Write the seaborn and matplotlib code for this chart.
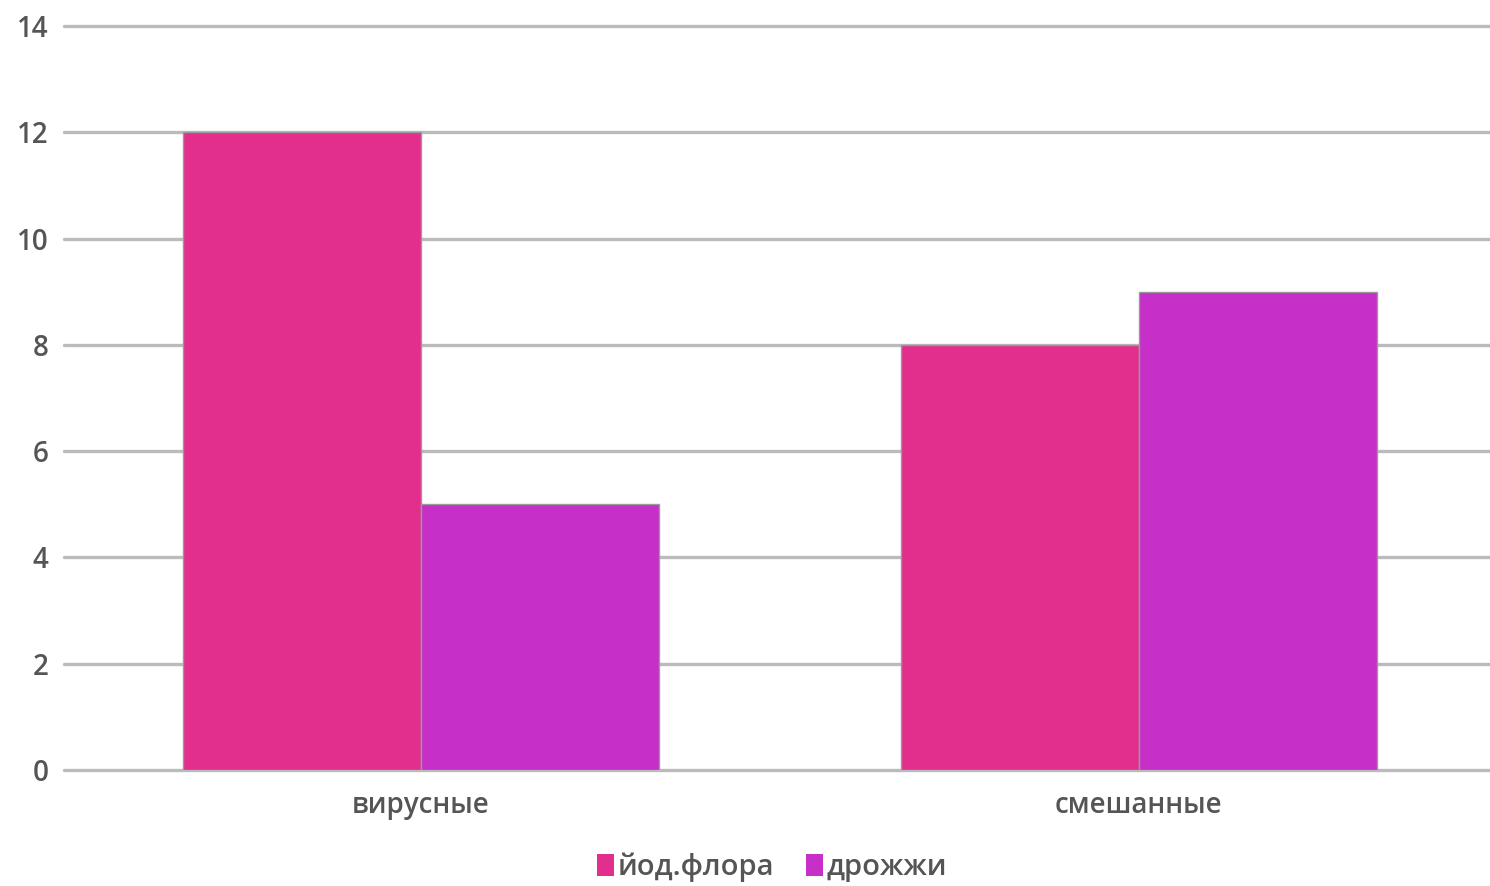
import matplotlib
matplotlib.use("Agg")
import matplotlib.pyplot as plt
import seaborn as sns
import pandas as pd
from matplotlib.patches import Patch

# данные
categories = ['вирусные', 'смешанные']
series = ['йод.флора', 'дрожжи']
yod_flora = [12, 8]
drozhzhi = [5, 9]
colors = {'йод.флора': '#E22E8C', 'дрожжи': '#C62FC8'}

df = pd.DataFrame({'Тип': categories, 'йод.флора': yod_flora, 'дрожжи': drozhzhi})
df_long = df.melt(id_vars='Тип', value_vars=series, var_name='Серия', value_name='Значение')

sns.set_theme(style='white')
plt.rcParams['font.family'] = ['Open Sans', 'DejaVu Sans']

fig = plt.figure(figsize=(14.9, 8.86), dpi=100)
ax = fig.add_axes([0.043, 0.131, 0.957, 0.8397])

sns.barplot(data=df_long, x='Тип', y='Значение', hue='Серия', palette=colors,
            width=0.663, edgecolor='#9a9a9a', linewidth=1, saturation=1,
            legend=False, ax=ax)

ax.set_ylim(0, 14)
ax.set_yticks(range(0, 15, 2))
ax.set_xlim(-0.497, 1.489)
ax.yaxis.grid(True, color='#BBBBBB', linewidth=2.4)
ax.set_axisbelow(True)
for s in ax.spines.values():
    s.set_visible(False)
ax.tick_params(axis='both', length=0, labelcolor='#555555')
ax.tick_params(axis='y', pad=11, labelsize=20)
ax.tick_params(axis='x', pad=15, labelsize=20)
for lbl in ax.get_xticklabels() + ax.get_yticklabels():
    lbl.set_fontweight('semibold')
for gl in ax.get_ygridlines():
    gl.set_clip_on(False)
ax.set_xlabel('')
ax.set_ylabel('')

handles = [Patch(facecolor=colors[s], edgecolor='none', label=s) for s in series]
leg = fig.legend(handles=handles, loc='center', bbox_to_anchor=(0.518, 0.021), ncol=2,
                 frameon=False, fontsize=21, handlelength=0.6, handleheight=0.75,
                 handletextpad=0.1, columnspacing=1.1, labelcolor='#555555')
for t in leg.get_texts():
    t.set_fontweight('semibold')

fig.savefig('out.png', dpi=100)
